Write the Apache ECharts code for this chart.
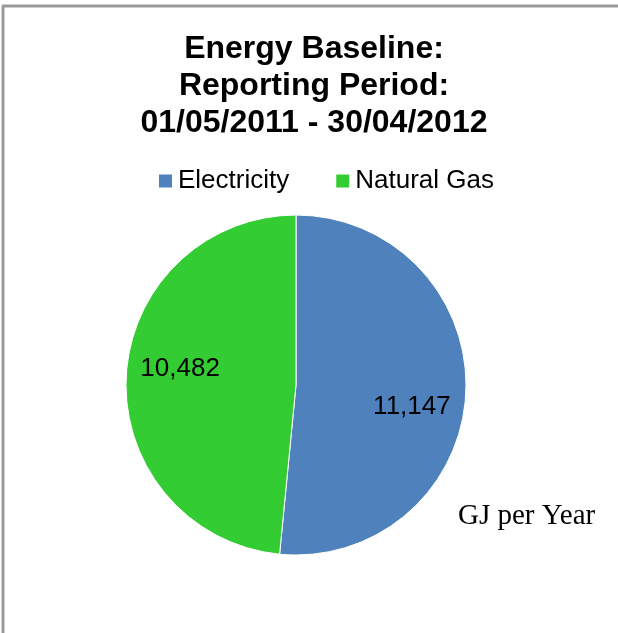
<!DOCTYPE html>
<html>
<head>
<meta charset="utf-8">
<script src="https://cdn.jsdelivr.net/npm/echarts@6/dist/echarts.min.js"></script>
<style>
  html, body { margin: 0; padding: 0; background: #fff; }
  #chart { width: 618px; height: 633px; }
</style>
</head>
<body>
<div id="chart"></div>
<script>
// Annual energy use by source (GJ per year)
const categories = ['Electricity', 'Natural Gas'];
const values = [11147, 10482];
const colors = ['#4F81BD', '#33CC33'];
const titleLines = ['Energy Baseline:', 'Reporting Period:', '01/05/2011 - 30/04/2012'];
const unitText = 'GJ per Year';

// Nudges that move each value label away from the slice's mid-angle spot
const labelNudge = [[28, 18], [-28, -12]];

const chart = echarts.init(document.getElementById('chart'), null, { renderer: 'canvas' });

const fmt = v => v.toLocaleString('en-US');

chart.setOption({
  backgroundColor: '#ffffff',
  animation: false,
  title: [
    {
      text: titleLines.join('\n'),
      left: 314,
      textAlign: 'center',
      top: 26,
      padding: [5, 0, 5, 0],
      textStyle: {
        fontFamily: 'Liberation Sans, Arial, sans-serif',
        fontSize: 32,
        fontWeight: 'bold',
        lineHeight: 37,
        color: '#000'
      }
    },
    {
      text: unitText,
      left: 453,
      top: 497,
      textStyle: {
        fontFamily: 'Liberation Serif, DejaVu Serif, serif',
        fontSize: 29,
        fontWeight: 'normal',
        color: '#000'
      }
    }
  ],
  legend: {
    data: categories,
    left: 154,
    top: 163,
    icon: 'rect',
    itemWidth: 13,
    itemHeight: 13,
    itemGap: 47,
    itemStyle: { borderWidth: 0 },
    textStyle: {
      fontFamily: 'Liberation Sans, Arial, sans-serif',
      fontSize: 26,
      color: '#000',
      padding: [0, 0, 0, 1]
    }
  },
  graphic: [
    { type: 'line', shape: { x1: 2, y1: 6, x2: 618, y2: 6 }, style: { stroke: '#9a9a9a', lineWidth: 3 } },
    { type: 'line', shape: { x1: 3, y1: 6, x2: 3, y2: 633 }, style: { stroke: '#9a9a9a', lineWidth: 3 } }
  ],
  series: [
    {
      type: 'pie',
      center: [296, 385],
      radius: [0, 170],
      startAngle: 90,
      clockwise: true,
      silent: true,
      data: categories.map((name, i) => ({
        name,
        value: values[i],
        itemStyle: { color: colors[i] }
      })),
      itemStyle: { borderColor: '#ffffff', borderWidth: 1 },
      label: {
        show: true,
        position: 'inside',
        formatter: p => fmt(p.value),
        fontFamily: 'Liberation Sans, Arial, sans-serif',
        fontSize: 26,
        color: '#000'
      },
      labelLine: { show: false },
      labelLayout: p => ({ dx: labelNudge[p.dataIndex][0], dy: labelNudge[p.dataIndex][1] }),
      emphasis: { disabled: true }
    }
  ]
});
</script>
</body>
</html>
